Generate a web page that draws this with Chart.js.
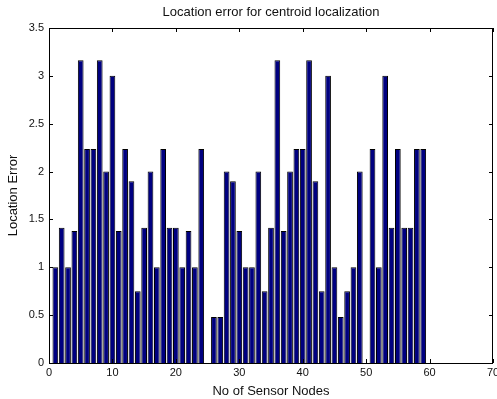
<!DOCTYPE html>
<html>
<head>
<meta charset="utf-8">
<script src="https://cdn.jsdelivr.net/npm/chart.js@4/dist/chart.umd.min.js"></script>
<style>
  html, body { margin: 0; padding: 0; background: #fff; }
  canvas { display: block; }
</style>
</head>
<body>
<canvas id="myChart" width="497" height="399"></canvas>
<script>
// node index of each bar
var nodes = [1, 2, 3, 4, 5, 6, 7, 8, 9, 10,
             11, 12, 13, 14, 15, 16, 17, 18, 19, 20,
             21, 22, 23, 24, 25, 26, 27, 28, 29, 30,
             31, 32, 33, 34, 35, 36, 37, 38, 39, 40,
             41, 42, 43, 44, 45, 46, 47, 48, 49, 50,
             51, 52, 53, 54, 55, 56, 57, 58, 59];
// location error (null = no bar)
var errors = [1, 1.414, 1, 1.38, 3.162, 2.236, 2.236, 3.162, 2, 3,
              1.38, 2.236, 1.9, 0.75, 1.414, 2, 1, 2.236, 1.414, 1.414,
              1, 1.38, 1, 2.236, null, 0.48, 0.48, 2, 1.9, 1.38,
              1, 1, 2, 0.75, 1.414, 3.162, 1.38, 2, 2.236, 2.236,
              3.162, 1.9, 0.75, 3, 1, 0.48, 0.75, 1, 2, null,
              2.236, 1, 3, 1.414, 2.236, 1.414, 1.414, 2.236, 2.236];
var xTicks = [0, 10, 20, 30, 40, 50, 60, 70];
var yTicks = [0, 0.5, 1, 1.5, 2, 2.5, 3, 3.5];

var points = nodes.map(function (n, i) { return { x: n, y: errors[i] }; });

// matlab style box with inward ticks on all four sides
var boxTicks = {
    id: 'boxTicks',
    afterDraw: function (chart) {
        var c = chart.ctx, a = chart.chartArea;
        var xs = chart.scales.x, ys = chart.scales.y;
        c.save();
        c.strokeStyle = '#000';
        c.lineWidth = 1;
        c.beginPath();
        c.rect(Math.round(a.left) + 0.5, Math.round(a.top) + 0.5,
               Math.round(a.right - a.left) - 1, Math.round(a.bottom - a.top));
        xTicks.forEach(function (t) {
            var px = Math.round(xs.getPixelForValue(t)) + 0.5;
            c.moveTo(px, a.top); c.lineTo(px, a.top + 4);
            c.moveTo(px, a.bottom); c.lineTo(px, a.bottom - 4);
        });
        yTicks.forEach(function (t) {
            var py = Math.round(ys.getPixelForValue(t)) + 0.5;
            c.moveTo(a.left, py); c.lineTo(a.left + 4, py);
            c.moveTo(a.right, py); c.lineTo(a.right - 4, py);
        });
        c.stroke();
        c.restore();
    }
};

var plain = function (v) { return String(Number(v)); };

var ctx = document.getElementById('myChart').getContext('2d');
var myChart = new Chart(ctx, {
    type: 'bar',
    data: {
        datasets: [{
            label: 'Location Error',
            data: points,
            backgroundColor: '#000080',
            borderColor: '#000000',
            borderWidth: 1,
            barPercentage: 0.9,
            categoryPercentage: 1
        }]
    },
    options: {
        responsive: false,
        animation: false,
        layout: { padding: { left: 0, right: 4, top: 0, bottom: 0 } },
        plugins: {
            legend: { display: false },
            tooltip: { enabled: false },
            title: {
                display: true,
                text: 'Location error for centroid localization',
                fullSize: false,
                color: '#111',
                font: { family: 'Liberation Sans', size: 13, weight: 'normal' },
                padding: { top: 5, bottom: 7.4 }
            }
        },
        scales: {
            x: {
                type: 'linear',
                min: 0,
                max: 70,
                offset: false,
                grid: { display: false, drawTicks: false },
                border: { display: false },
                ticks: {
                    stepSize: 10,
                    padding: 3,
                    color: '#111',
                    maxRotation: 0,
                    callback: plain,
                    font: { family: 'Liberation Sans', size: 11 }
                },
                title: {
                    display: true,
                    text: 'No of Sensor Nodes',
                    color: '#111',
                    font: { family: 'Liberation Sans', size: 13 },
                    padding: { top: 0, bottom: 0 }
                },
                afterFit: function (s) { s.height = 36; s.paddingLeft = 0; s.paddingRight = 0; }
            },
            y: {
                min: 0,
                max: 3.5,
                grid: { display: false, drawTicks: false },
                border: { display: false },
                ticks: {
                    stepSize: 0.5,
                    padding: 5,
                    color: '#111',
                    callback: plain,
                    font: { family: 'Liberation Sans', size: 11 }
                },
                title: {
                    display: true,
                    text: 'Location Error',
                    color: '#111',
                    font: { family: 'Liberation Sans', size: 13 },
                    padding: { top: 6, bottom: 0 }
                },
                afterFit: function (s) { s.width = 49; s.paddingTop = 0; s.paddingBottom = 0; }
            }
        }
    },
    plugins: [boxTicks]
});
</script>
</body>
</html>
